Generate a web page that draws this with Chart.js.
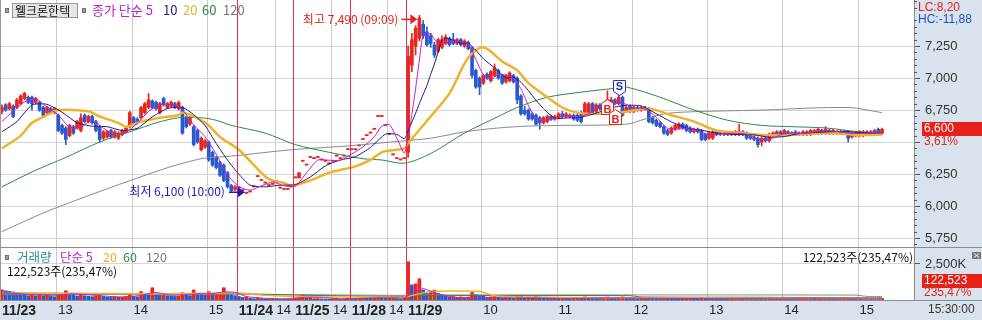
<!DOCTYPE html>
<html><head><meta charset="utf-8">
<script src="https://cdn.jsdelivr.net/npm/chart.js@4.4.0/dist/chart.umd.min.js"></script>
<style>html,body{margin:0;padding:0;background:#fff;overflow:hidden}canvas{display:block}</style>
</head><body>
<canvas id="c" width="982" height="320"></canvas>
<script>
// ---------------- DATA ----------------
const N = 243; // bar slots on the x axis (3-minute bars)
const categories = Array.from({length: N}, (_, i) => String(i));

// x-axis tick labels (bar index where each label starts)
const xTickIdx   = [0, 15, 35, 55, 63, 73, 78, 88, 93, 103, 108, 128, 148, 168, 188, 208, 228];
const xTickText  = ['11/23','13','14','15','11/24','14','11/25','14','11/28','14','11/29','10','11','12','13','14','15'];
const xTickMajor = [1,0,0,0,1,0,1,0,1,0,1,0,0,0,0,0,0];

const priceTicks = [5750, 6000, 6250, 6500, 6750, 7000, 7250];
const volTicks = [2500]; // thousands

// candles [open, high, low, close]
const d1123 = [
[6740,6790,6720,6770],[6790,6800,6740,6750],[6760,6810,6750,6800],[6780,6790,6690,6700],[6770,6840,6760,6830],
[6800,6870,6790,6860],[6840,6890,6830,6880],[6850,6860,6800,6810],[6850,6860,6750,6800],[6810,6850,6800,6840],
[6810,6820,6740,6750],[6770,6780,6700,6710],[6730,6780,6720,6770],[6760,6770,6720,6730],[6730,6770,6720,6760],
[6710,6720,6580,6590],[6630,6640,6560,6570],[6610,6620,6480,6520],[6550,6640,6540,6630],[6620,6630,6560,6570],
[6610,6670,6600,6660],[6590,6720,6580,6690],[6710,6720,6650,6660],[6660,6710,6650,6700],[6700,6710,6640,6650],
[6660,6670,6580,6590],[6620,6630,6500,6520],[6530,6590,6520,6580],[6540,6590,6530,6580],[6590,6600,6530,6540],
[6540,6590,6530,6580],[6530,6580,6520,6570],[6560,6600,6550,6590],[6580,6620,6570,6610],[6620,6740,6610,6730],
[6690,6700,6640,6650],[6680,6690,6640,6650],[6690,6780,6680,6770],[6730,6810,6720,6800],[6770,6880,6760,6830],
[6820,6830,6760,6770],[6810,6820,6750,6760],[6730,6810,6720,6800],[6840,6850,6780,6790],[6770,6810,6760,6800],
[6780,6820,6770,6810],[6800,6810,6760,6770],[6760,6820,6750,6810],[6770,6780,6560,6570],[6690,6700,6610,6620],
[6640,6700,6630,6690],[6620,6630,6470,6480],[6590,6600,6490,6500],[6440,6540,6430,6530],[6460,6520,6450,6510],
[6500,6510,6350,6360],[6420,6430,6310,6320],[6380,6390,6290,6300],[6340,6350,6230,6240],[6320,6330,6190,6200],
[6260,6270,6140,6150],[6160,6170,6110,6120],[6130,6160,6120,6150]];
const d1124 = [
[6150,6150,6130,6140],[6120,6120,6120,6120],[6100,6100,6100,6100],[6110,6110,6110,6110],[6150,6150,6150,6150],
[6230,6230,6230,6230],[6200,6200,6200,6200],[6180,6180,6180,6180],[6160,6160,6160,6160],[6170,6170,6170,6170],
[6190,6190,6190,6190],[6140,6140,6140,6140],[6130,6130,6130,6130],[6130,6130,6130,6130],[6150,6150,6150,6150]];
const d1125 = [
[6220,6220,6220,6220],[6220,6260,6220,6260],[6350,6350,6350,6350],[6320,6320,6320,6320],[6380,6380,6380,6380],
[6370,6370,6370,6370],[6380,6380,6380,6380],[6360,6360,6360,6360],[6350,6350,6350,6350],[6330,6330,6330,6330],
[6350,6350,6350,6350],[6390,6390,6390,6390],[6370,6370,6370,6370],[6390,6390,6390,6390],[6440,6440,6440,6440]];
const d1128 = [
[6440,6440,6440,6440],[6440,6440,6440,6440],[6470,6470,6470,6470],[6520,6520,6520,6520],[6550,6550,6550,6550],
[6570,6570,6570,6570],[6600,6600,6600,6600],[6700,6700,6700,6700],[6700,6700,6700,6700],[6630,6630,6630,6630],
[6560,6560,6560,6560],[6400,6400,6400,6400],[6370,6370,6370,6370],[6360,6360,6360,6360],[6370,6370,6370,6370]];
const d1129 = [
[6420,7250,6380,7170],[7100,7350,7050,7300],[7250,7410,7180,7390],[7310,7490,7290,7470],[7420,7450,7310,7330],
[7360,7400,7250,7260],[7330,7350,7240,7270],[7260,7280,7160,7180],[7210,7310,7200,7300],[7240,7330,7230,7300],
[7270,7340,7260,7320],[7310,7320,7250,7260],[7300,7350,7260,7270],[7270,7310,7260,7300],[7300,7310,7250,7260],
[7250,7300,7240,7290],[7280,7290,7220,7230],[7230,7240,7000,7020],[7060,7070,6920,6930],[7000,7010,6870,6930],
[6960,7030,6950,7020],[7030,7040,6990,7000],[6980,7060,6970,7050],[7020,7110,7010,7080],[7060,7070,6990,7000],
[7020,7030,6950,6960],[6970,7030,6960,7020],[6980,7050,6970,7040],[7020,7030,6960,6970],[7000,7010,6800,6830],
[6860,6870,6710,6720],[6750,6780,6710,6720],[6750,6760,6670,6680],[6720,6730,6670,6680],[6710,6720,6630,6640],
[6690,6700,6600,6650],[6650,6700,6640,6690],[6660,6710,6650,6700],[6700,6710,6670,6680],[6680,6710,6670,6700],
[6690,6730,6680,6720],[6720,6740,6690,6700],[6700,6730,6690,6720],[6700,6720,6690,6710],[6710,6720,6670,6680],
[6710,6720,6660,6670],[6730,6740,6650,6660],[6720,6810,6710,6800],[6730,6810,6720,6800],[6800,6810,6720,6730],
[6740,6800,6730,6790],[6790,6800,6750,6760],[6760,6810,6750,6800],[6780,6900,6770,6830],[6790,6850,6780,6830],
[6830,6840,6790,6800],[6800,6880,6790,6850],[6850,6860,6700,6710],[6740,6780,6730,6770],[6780,6790,6730,6740],
[6740,6780,6730,6770],[6770,6780,6740,6750],[6750,6780,6740,6770],[6770,6780,6750,6760],[6760,6770,6650,6660],
[6690,6700,6640,6650],[6670,6680,6620,6630],[6650,6660,6610,6620],[6620,6630,6560,6570],[6590,6600,6550,6560],
[6570,6620,6560,6610],[6600,6640,6590,6630],[6610,6650,6600,6640],[6640,6650,6600,6610],[6630,6640,6580,6590],
[6610,6620,6570,6580],[6580,6610,6570,6600],[6600,6610,6570,6580],[6590,6600,6510,6520],[6560,6570,6510,6520],
[6530,6580,6520,6570],[6530,6590,6520,6580],[6580,6590,6550,6560],[6560,6580,6550,6570],[6570,6580,6550,6560],
[6560,6580,6550,6570],[6570,6580,6550,6560],[6560,6590,6550,6580],[6560,6640,6550,6580],[6580,6590,6550,6560],
[6570,6580,6520,6530],[6550,6560,6520,6530],[6540,6550,6510,6520],[6530,6540,6460,6480],[6500,6540,6470,6530],
[6530,6540,6500,6510],[6510,6570,6500,6560],[6550,6580,6540,6570],[6560,6590,6550,6580],[6580,6590,6550,6560],
[6560,6600,6550,6590],[6580,6590,6550,6560],[6560,6580,6550,6570],[6580,6590,6550,6560],[6570,6580,6550,6560],
[6560,6590,6550,6580],[6560,6590,6550,6580],[6560,6600,6550,6590],[6570,6600,6560,6590],[6570,6610,6560,6600],
[6590,6600,6560,6570],[6570,6620,6560,6600],[6590,6600,6560,6570],[6570,6600,6560,6590],[6570,6590,6560,6580],
[6580,6590,6560,6570],[6570,6590,6560,6580],[6580,6590,6500,6530],[6540,6580,6530,6570],[6550,6580,6540,6570],
[6550,6590,6540,6580],[6550,6590,6540,6580],[6560,6590,6550,6580],[6580,6590,6550,6560],[6560,6600,6550,6590],
[6600,6610,6550,6560],[6570,6610,6560,6600]];

// volume (thousand shares)
const v1123 = [710,640,600,560,450,420,390,300,350,280,320,260,300,250,220,340,380,640,400,330,280,430,300,260,230,280,350,250,200,180,220,190,200,240,380,260,220,580,450,380,850,420,350,380,300,280,250,260,500,350,300,700,420,380,330,580,400,430,460,850,520,380,300];
const v1124 = [250,180,220,120,90,160,100,80,70,110,90,60,80,50,70];
const v1125 = [120,150,350,120,180,90,100,80,70,60,80,120,70,90,140];
const v1128 = [100,80,120,150,130,120,160,200,120,110,140,180,100,80,120];
const v1129 = [2660,1050,1120,1480,690,450,520,690,450,380,260,190,230,180,210,170,200,520,380,310,
260,180,220,250,190,170,200,180,150,300,260,180,210,170,240,200,150,130,110,120,
100,130,110,90,120,140,130,210,180,150,140,120,160,200,150,130,180,210,150,120,
110,100,120,110,170,140,120,110,160,130,120,100,110,90,100,120,90,80,150,110,
100,120,90,80,70,90,70,80,110,80,100,90,80,140,120,90,110,80,90,70,
100,80,70,60,70,80,90,100,80,90,70,100,80,70,60,70,80,130,90,80,
70,80,70,60,80,52,123];

// moving averages: [bar index, value]
const ma5Pts = [[0,6660],[3,6740],[6,6814],[9,6838],[12,6774],[15,6712],[18,6614],[21,6614],[24,6672],[27,6608],[30,6560],[33,6578],[36,6646],[39,6740],[42,6792],[45,6792],[48,6752],[51,6634],[54,6542],[57,6404],[60,6242],[63,6152],[66,6124],[69,6158],[72,6188],[75,6158],[78,6154],[81,6260],[84,6360],[87,6358],[90,6358],[93,6406],[96,6462],[99,6542],[101,6624],[103,6638],[105,6532],[107,6412],[108,6534],[109,6714],[110,6918],[111,7140],[112,7332],[114,7344],[116,7268],[118,7274],[120,7290],[122,7282],[124,7270],[126,7146],[128,7026],[130,6986],[132,7030],[134,7022],[136,6998],[138,6916],[140,6784],[142,6688],[144,6668],[147,6684],[150,6704],[153,6696],[156,6722],[159,6776],[162,6802],[165,6804],[168,6768],[171,6758],[174,6694],[177,6606],[180,6602],[183,6610],[186,6574],[189,6554],[192,6568],[195,6568],[198,6562],[201,6524],[204,6520],[207,6556],[210,6572],[213,6566],[216,6580],[219,6590],[222,6582],[225,6570],[228,6566],[231,6574],[234,6578]];
const ma10Pts = [[0,6580],[4,6660],[8,6790],[12,6795],[16,6733],[20,6651],[24,6624],[28,6620],[32,6590],[36,6608],[40,6697],[44,6762],[48,6771],[51,6714],[54,6629],[57,6488],[60,6359],[63,6249],[66,6163],[70,6150],[74,6163],[78,6167],[82,6227],[86,6314],[90,6360],[94,6386],[98,6458],[102,6562],[105,6560],[107,6526],[108,6586],[109,6656],[110,6725],[111,6802],[112,6872],[113,6942],[114,7029],[115,7110],[116,7204],[117,7297],[118,7312],[120,7296],[122,7272],[124,7271],[126,7218],[128,7151],[130,7103],[132,7055],[134,7001],[136,7007],[138,6967],[140,6902],[142,6826],[144,6762],[147,6686],[150,6688],[154,6694],[158,6726],[162,6767],[166,6787],[170,6782],[174,6721],[178,6658],[182,6611],[186,6592],[190,6571],[195,6559],[200,6556],[204,6538],[208,6543],[212,6566],[216,6574],[220,6580],[224,6584],[228,6574],[232,6571],[234,6572]];
const ma20Pts = [[0,6450],[5,6550],[8,6650],[12,6710],[15,6750],[23,6740],[26,6700],[31,6650],[33,6620],[37,6660],[42,6690],[47,6710],[48,6730],[51,6700],[55,6630],[58,6540],[63,6440],[67,6320],[71,6210],[75,6180],[77,6160],[82,6200],[87,6260],[94,6310],[98,6360],[101,6420],[105,6440],[107,6450],[108,6490],[114,6700],[119,6880],[124,7160],[128,7240],[133,7130],[137,7060],[140,6960],[145,6850],[149,6770],[153,6730],[158,6720],[164,6730],[172,6760],[178,6710],[184,6660],[190,6590],[197,6570],[202,6555],[210,6555],[219,6570],[228,6555],[234,6560]];
const ma60Pts = [[0,6150],[9,6280],[17,6380],[26,6500],[35,6590],[41,6650],[47,6690],[53,6690],[57,6670],[61,6630],[70,6570],[78,6480],[87,6420],[96,6370],[101,6360],[107,6335],[114,6410],[123,6570],[132,6700],[137,6770],[145,6850],[154,6890],[163,6920],[166,6930],[175,6850],[184,6750],[193,6670],[202,6630],[210,6620],[219,6610],[228,6580],[234,6570]];
const ma120Pts = [[0,5800],[13,5970],[42,6280],[53,6370],[61,6390],[77,6440],[92,6470],[107,6510],[114,6530],[123,6580],[132,6610],[140,6625],[149,6630],[166,6640],[171,6680],[176,6720],[182,6735],[202,6750],[225,6770],[234,6730]];
const vma5Pts = [[0,560],[5,420],[10,330],[15,300],[18,420],[22,380],[27,280],[32,210],[37,320],[41,520],[45,330],[49,360],[52,430],[56,450],[59,560],[62,530],[65,240],[70,120],[75,75],[80,180],[85,180],[90,80],[95,110],[100,150],[105,150],[107,140],[108,300],[110,600],[112,790],[113,710],[115,520],[117,360],[120,210],[124,120],[128,190],[132,120],[140,150],[150,110],[160,150],[170,130],[180,110],[190,90],[200,90],[210,80],[220,80],[230,80],[234,90]];
const vma20Pts = [[0,520],[20,470],[40,440],[62,480],[70,330],[78,240],[93,200],[107,190],[108,250],[114,590],[127,590],[131,290],[140,200],[160,160],[180,140],[200,110],[234,90]];
const vma60Pts = [[0,430],[30,420],[62,440],[80,330],[107,250],[112,300],[167,300],[170,210],[200,190],[234,150]];
const vma120Pts = [[0,380],[62,400],[107,320],[112,350],[227,340],[230,250],[234,240]];

// annotations
const hiMark = {bar: 111, price: 7490, text: '최고 7,490 (09:09)'};
const loMark = {bar: 65, price: 6100, text: '최저 6,100 (10:00)'};
const signals = [{bar: 164, price: 6870, t: 'S'}, {bar: 161, price: 6840, t: 'B'}, {bar: 163, price: 6760, t: 'B'}];
const lastPrice = 6600;

// ---------------- BUILD ----------------
const RED = '#e8261e', BLUE = '#2a58d0';
const DAYLINE = '#e8305c', HOURLINE = '#cccccc';
const KR = '"Noto Sans CJK KR", "Noto Sans", sans-serif';
const NUM = '"Liberation Sans", Arial, sans-serif';
const NARROW = '"Liberation Sans Narrow", "Liberation Sans", Arial, sans-serif';

const ohlc = [].concat(d1123, d1124, d1125, d1128, d1129);
const vols = [].concat(v1123, v1124, v1125, v1128, v1129);
const pad = a => { const r = a.slice(); while (r.length < N) r.push(null); return r; };
const fromPts = pts => { const r = new Array(N).fill(null); pts.forEach(([i, v]) => { r[i] = v; }); return r; };

const bodies = pad(ohlc.map(c => [c[0], c[3]]));
const wicks = pad(ohlc.map(c => [c[2], c[1]]));
const candleColors = pad(ohlc.map(c => c[3] >= c[0] ? RED : BLUE));
const volColors = pad(vols.map((v, i) => (i === 0 || v >= vols[i - 1]) ? RED : BLUE));

const lineDs = (label, pts, color, width, axis, order, tension) => ({
  type: 'line', label, data: fromPts(pts), borderColor: color, borderWidth: width,
  pointRadius: 0, spanGaps: true, yAxisID: axis, order, tension, fill: false
});

function vLines(chart, majorOnly) {
  const {ctx, chartArea: a, scales: {x}} = chart;
  const half = (x.getPixelForValue(1) - x.getPixelForValue(0)) / 2;
  ctx.save();
  ctx.lineWidth = 1;
  xTickIdx.forEach((i, k) => {
    if (i === 0) return;
    if (!!xTickMajor[k] !== majorOnly) return;
    const px = Math.round(x.getPixelForValue(i) - half) + 0.5;
    ctx.strokeStyle = majorOnly ? DAYLINE : HOURLINE;
    ctx.beginPath(); ctx.moveTo(px, a.top); ctx.lineTo(px, a.bottom); ctx.stroke();
  });
  ctx.restore();
}

const hts = {
  id: 'hts',
  beforeDraw(chart) {
    const {ctx, chartArea: a, width, height} = chart;
    ctx.save();
    ctx.fillStyle = '#fff'; ctx.fillRect(0, 0, width, height);
    ctx.fillStyle = '#d9e3ee';
    ctx.fillRect(a.right, 0, width - a.right, height);
    ctx.fillRect(0, a.bottom, width, height - a.bottom);
    ctx.restore();
  },
  beforeDatasetsDraw(chart) { vLines(chart, false); },
  afterDatasetsDraw(chart) { vLines(chart, true); },
  afterDraw(chart) {
    const {ctx, chartArea: a, scales: {x, y, yv}, width} = chart;
    const line = (x1, y1, x2, y2, c) => { ctx.strokeStyle = c; ctx.beginPath(); ctx.moveTo(x1, y1); ctx.lineTo(x2, y2); ctx.stroke(); };
    const txt = (s, tx, ty, c, f, al) => { ctx.fillStyle = c; ctx.font = f; ctx.textAlign = al || 'left'; ctx.textBaseline = 'middle'; ctx.fillText(s, tx, ty); };
    const sq = (sx, sy) => { ctx.fillStyle = '#a0a0a0'; ctx.fillRect(sx, sy, 4, 5); ctx.strokeStyle = '#707070'; ctx.strokeRect(sx + 0.5, sy + 0.5, 3, 4); };
    ctx.save();
    ctx.lineWidth = 1;
    // panel separator & borders
    const sep = Math.round(yv.top) + 0.5;
    line(0, sep, width, sep, '#8c8c8c');
    line(0.5, 0, 0.5, a.bottom, '#9a9a9a');
    line(a.right, a.bottom + 0.5, width, a.bottom + 0.5, '#8c8c8c');
    // minor ticks on price axis
    for (let v = 5700; v <= 7600; v += 50) {
      if (v % 250 === 0) continue;
      const py = Math.round(y.getPixelForValue(v)) + 0.5;
      line(a.right, py, a.right + 3, py, '#555');
    }
    // top legend
    sq(5, 8);
    ctx.fillStyle = '#e6e6e6'; ctx.fillRect(12, 3, 66, 15);
    ctx.strokeStyle = '#9a9a9a'; ctx.strokeRect(12.5, 3.5, 65, 14);
    txt('웰크론한텍', 15, 11, '#111', `12px ${KR}`);
    sq(82, 8);
    const lf = `13px ${KR}`;
    txt('종가 단순 5', 92, 10.5, '#c020c0', lf);
    txt('10', 163, 10.5, '#1b1b7a', lf);
    txt('20', 183, 10.5, '#e8b030', lf);
    txt('60', 202, 10.5, '#2e8b3e', lf);
    txt('120', 223, 10.5, '#777', lf);
    // volume legend
    const vf = `12.5px ${KR}`;
    sq(5, 255);
    txt('거래량', 17, 257.5, '#2a8c8c', vf);
    txt('단순 5', 60, 257.5, '#c020c0', vf);
    txt('20', 103, 257.5, '#e8b030', vf);
    txt('60', 123, 257.5, '#2e8b3e', vf);
    txt('120', 146, 257.5, '#777', vf);
    txt('122,523주(235,47%)', 7, 271, '#111', `12px ${KR}`);
    txt('122,523주(235,47%)', a.right - 1, 257.5, '#111', `12px ${KR}`, 'right');
    // right axis texts
    const af = `12px ${NUM}`;
    txt('LC:8,20', 918, 8, '#e0241c', af);
    txt('HC:-11,88', 918, 20, '#2050c0', af);
    const lp = Math.round(y.getPixelForValue(lastPrice));
    ctx.fillStyle = '#e8201a'; ctx.fillRect(922, lp - 7, 60, 14);
    txt('6,600', 924, lp, '#fff', af);
    txt('3,61%', 924, lp + 13, '#e0241c', af);
    ctx.fillStyle = '#e8201a'; ctx.fillRect(922, 274, 60, 14);
    txt('122,523', 924, 281, '#fff', af);
    txt('235,47%', 924, 293, '#e0241c', af);
    txt('15:30:00', 928, 310, '#333', `12px ${NUM}`);
    ctx.fillStyle = '#777'; ctx.fillRect(972, 252, 9, 7);
    line(974, 253.5, 979, 257.5, '#fff'); line(979, 253.5, 974, 257.5, '#fff');
    // high / low annotations
    const tri = (tx, ty, c) => { ctx.fillStyle = c; ctx.beginPath(); ctx.moveTo(tx, ty); ctx.lineTo(tx - 7, ty - 5); ctx.lineTo(tx - 7, ty + 5); ctx.closePath(); ctx.fill(); };
    const hx = x.getPixelForValue(hiMark.bar) - 2, hy = y.getPixelForValue(hiMark.price) + 4;
    ctx.lineWidth = 1.5;
    line(hx - 16, hy, hx - 5, hy, '#e0241c'); tri(hx, hy, '#e0241c');
    txt(hiMark.text, hx - 19, hy, '#e0241c', `12px ${KR}`, 'right');
    const lx = x.getPixelForValue(loMark.bar) - 1.5, ly = y.getPixelForValue(loMark.price) - 1;
    line(lx - 16, ly, lx - 5, ly, '#1a1ab8'); tri(lx, ly, '#1a1ab8');
    txt(loMark.text, lx - 20, ly - 1, '#1a1ab8', `12px ${KR}`, 'right');
    // S / B signals
    ctx.lineWidth = 1;
    signals.forEach(s => {
      const cx = Math.round(x.getPixelForValue(s.bar)) + 0.5, cy = Math.round(y.getPixelForValue(s.price)) + 0.5;
      const w = 12, h = 11, p = 4, col = s.t === 'S' ? '#2030c0' : '#e0241c';
      ctx.beginPath();
      let ty;
      if (s.t === 'S') {
        ctx.moveTo(cx - w / 2, cy - p - h); ctx.lineTo(cx + w / 2, cy - p - h); ctx.lineTo(cx + w / 2, cy - p);
        ctx.lineTo(cx, cy); ctx.lineTo(cx - w / 2, cy - p); ty = cy - p - h / 2;
      } else {
        ctx.moveTo(cx, cy); ctx.lineTo(cx + w / 2, cy + p); ctx.lineTo(cx + w / 2, cy + p + h);
        ctx.lineTo(cx - w / 2, cy + p + h); ctx.lineTo(cx - w / 2, cy + p); ty = cy + p + h / 2;
      }
      ctx.closePath(); ctx.fillStyle = '#fff'; ctx.fill(); ctx.strokeStyle = col; ctx.stroke();
      txt(s.t, cx, ty + 0.5, col, `bold 11px ${NUM}`, 'center');
    });
    ctx.restore();
  }
};

new Chart(document.getElementById('c'), {
  type: 'bar',
  data: {
    labels: categories,
    datasets: [
      lineDs('MA5', ma5Pts, '#c81ec8', 1, 'y', 1, 0.2),
      lineDs('MA10', ma10Pts, '#1b1b7a', 1, 'y', 2, 0.2),
      lineDs('MA20', ma20Pts, '#f0b22a', 2.5, 'y', 3, 0.3),
      lineDs('MA60', ma60Pts, '#2e8b3e', 1, 'y', 4, 0.3),
      lineDs('MA120', ma120Pts, '#8a8a8a', 1, 'y', 5, 0.3),
      {type: 'bar', label: 'body', data: bodies, backgroundColor: candleColors, barThickness: 3, minBarLength: 1, grouped: false, yAxisID: 'y', order: 6},
      {type: 'bar', label: 'wick', data: wicks, backgroundColor: candleColors, barThickness: 1, minBarLength: 1, grouped: false, yAxisID: 'y', order: 7},
      lineDs('VMA5', vma5Pts, '#c81ec8', 1, 'yv', 8, 0.2),
      lineDs('VMA20', vma20Pts, '#f0b22a', 1.5, 'yv', 9, 0.2),
      lineDs('VMA60', vma60Pts, '#2e8b3e', 1, 'yv', 10, 0.2),
      lineDs('VMA120', vma120Pts, '#8a8a8a', 1, 'yv', 11, 0.2),
      {type: 'bar', label: 'vol', data: pad(vols), backgroundColor: volColors, barThickness: 3, grouped: false, yAxisID: 'yv', order: 12}
    ]
  },
  options: {
    responsive: false, animation: false, devicePixelRatio: 1, events: [],
    layout: {padding: 0},
    plugins: {legend: {display: false}, tooltip: {enabled: false}},
    scales: {
      x: {
        type: 'category', offset: true,
        grid: {display: false, drawTicks: false},
        border: {display: true, color: '#8c8c8c'},
        afterBuildTicks: s => { s.ticks = xTickIdx.map((v, k) => ({value: v, major: !!xTickMajor[k]})); },
        afterFit: s => { s.height = 20; s.paddingLeft = 0; s.paddingRight = 0; },
        ticks: {
          autoSkip: false, maxRotation: 0, minRotation: 0, align: 'start', padding: 3, color: '#222',
          callback: (v, k) => xTickText[k],
          font: c => (c.tick && c.tick.major) ? {family: NUM, size: 14, weight: 'bold'} : {family: NARROW, size: 13}
        }
      },
      y: {
        type: 'linear', position: 'right', stack: 'p', stackWeight: 247, min: 5680, max: 7610,
        afterBuildTicks: s => { s.ticks = priceTicks.map(v => ({value: v})); },
        afterFit: s => { s.width = 68; s.paddingTop = 0; s.paddingBottom = 0; },
        grid: {color: '#d6d6d6', tickColor: '#555', tickLength: 6},
        border: {display: true, color: '#8c8c8c'},
        ticks: {padding: 5, color: '#333', font: {family: NARROW, size: 13},
          callback: v => v === 6500 ? '' : v.toLocaleString('en-US')}
      },
      yv: {
        type: 'linear', position: 'right', stack: 'p', stackWeight: 53, min: 0, max: 3680,
        afterBuildTicks: s => { s.ticks = volTicks.map(v => ({value: v})); },
        afterFit: s => { s.width = 68; s.paddingTop = 0; s.paddingBottom = 0; },
        grid: {color: '#d6d6d6', tickColor: '#555', tickLength: 6},
        border: {display: true, color: '#8c8c8c'},
        ticks: {padding: 5, color: '#333', font: {family: NARROW, size: 13},
          callback: v => v.toLocaleString('en-US') + 'K'}
      }
    }
  },
  plugins: [hts]
});
</script>
</body></html>
